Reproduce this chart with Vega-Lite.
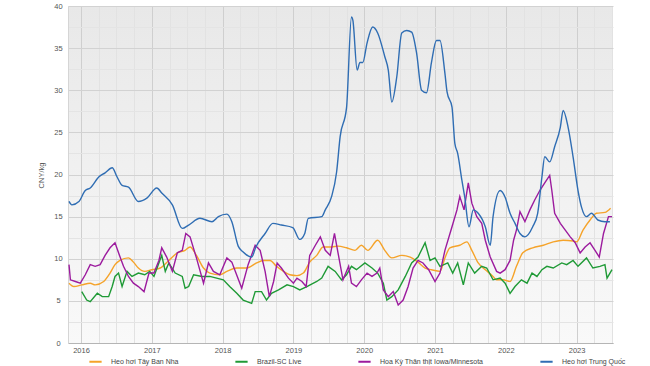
{
  "$schema": "https://vega.github.io/schema/vega-lite/v6.json",
  "width": 545,
  "height": 337,
  "autosize": "none",
  "padding": {"left": 68, "top": 6, "right": 37, "bottom": 23},
  "background": "#ffffff",
  "config": {
    "view": {
      "stroke": null,
      "fill": {"gradient": "linear", "x1": 0, "y1": 0, "x2": 0, "y2": 1, "stops": [{"offset": 0, "color": "#e8e8e8"}, {"offset": 1, "color": "#f9f9f9"}]}
    },
    "font": "Liberation Sans"
  },
  "encoding": {
    "x": {
      "field": "t", "type": "quantitative",
      "scale": {"domain": [2015.816, 2023.514], "nice": false, "zero": false},
      "axis": {
        "title": null,
        "values": [2015.75, 2016, 2016.25, 2016.5, 2016.75, 2017, 2017.25, 2017.5, 2017.75, 2018, 2018.25, 2018.5, 2018.75, 2019, 2019.25, 2019.5, 2019.75, 2020, 2020.25, 2020.5, 2020.75, 2021, 2021.25, 2021.5, 2021.75, 2022, 2022.25, 2022.5, 2022.75, 2023, 2023.25, 2023.5],
        "labelExpr": "datum.value % 1 === 0 ? format(datum.value, 'd') : ''",
        "gridColor": {"condition": {"test": "datum.value % 1 === 0", "value": "#cfcfcf"}, "value": "#e2e2e2"},
        "ticks": false,
        "domainColor": "#b5b5b5",
        "labelFontSize": 7.5,
        "labelColor": "#555555",
        "labelPadding": 3,
        "labelFlush": false
      }
    },
    "y": {
      "field": "v", "type": "quantitative",
      "scale": {"domain": [0, 40], "nice": false},
      "axis": {
        "title": "CNY/kg",
        "titleFontSize": 7.5,
        "titleFontWeight": "normal",
        "titleColor": "#555555",
        "titleX": -27,
        "titleY": 169,
        "titleAngle": -90,
        "titleAlign": "center",
        "titleBaseline": "middle",
        "values": [0, 2.5, 5, 7.5, 10, 12.5, 15, 17.5, 20, 22.5, 25, 27.5, 30, 32.5, 35, 37.5, 40],
        "labelExpr": "datum.value % 5 === 0 ? format(datum.value, 'd') : ''",
        "gridColor": {"condition": {"test": "datum.value % 5 === 0", "value": "#d2d2d2"}, "value": "#e4e4e4"},
        "ticks": false,
        "domainColor": "#d5d5d5",
        "labelAlign": "center",
        "labelPadding": 10,
        "labelFontSize": 7.5,
        "labelColor": "#555555"
      }
    },
    "color": {
      "scale": {
        "domain": ["Heo hơi Tây Ban Nha", "Brazil-SC Live", "Hoa Kỳ Thăn thịt Iowa/Minnesota", "Heo hơi Trung Quốc"],
        "range": ["#f5a32a", "#1f9a36", "#9c1b9e", "#2f6db3"]
      },
      "legend": {
        "title": null,
        "orient": "none",
        "legendX": 20,
        "legendY": 348,
        "direction": "horizontal",
        "columns": 4,
        "columnPadding": 52,
        "symbolType": "stroke",
        "symbolSize": 150,
        "symbolStrokeWidth": 2,
        "labelFontSize": 7,
        "labelColor": "#444444",
        "labelOffset": 8,
        "padding": 0,
        "labelLimit": 200
      }
    }
  },
  "layer": [
    {
      "data": {"values": [
        {"t": 2015.83, "v": 7.1}, {"t": 2015.90, "v": 6.7}, {"t": 2016.01, "v": 6.9}, {"t": 2016.13, "v": 7.1}, {"t": 2016.20, "v": 6.9}, {"t": 2016.32, "v": 7.3}, {"t": 2016.41, "v": 8.3}, {"t": 2016.48, "v": 9.3}, {"t": 2016.55, "v": 9.8}, {"t": 2016.67, "v": 10.1}, {"t": 2016.74, "v": 9.6}, {"t": 2016.81, "v": 8.9}, {"t": 2016.90, "v": 8.5}, {"t": 2017.00, "v": 8.7}, {"t": 2017.12, "v": 8.9}, {"t": 2017.24, "v": 9.8}, {"t": 2017.36, "v": 10.7}, {"t": 2017.47, "v": 11.0}, {"t": 2017.54, "v": 11.4}, {"t": 2017.63, "v": 10.4}, {"t": 2017.73, "v": 8.9}, {"t": 2017.82, "v": 8.3}, {"t": 2017.96, "v": 8.1}, {"t": 2018.06, "v": 8.5}, {"t": 2018.20, "v": 8.9}, {"t": 2018.34, "v": 8.9}, {"t": 2018.48, "v": 9.5}, {"t": 2018.57, "v": 9.8}, {"t": 2018.67, "v": 9.8}, {"t": 2018.76, "v": 9.1}, {"t": 2018.86, "v": 8.5}, {"t": 2018.95, "v": 8.1}, {"t": 2019.05, "v": 8.0}, {"t": 2019.14, "v": 8.3}, {"t": 2019.23, "v": 9.6}, {"t": 2019.33, "v": 10.4}, {"t": 2019.42, "v": 11.4}, {"t": 2019.54, "v": 11.4}, {"t": 2019.63, "v": 11.5}, {"t": 2019.75, "v": 11.3}, {"t": 2019.87, "v": 11.0}, {"t": 2019.96, "v": 11.6}, {"t": 2020.05, "v": 11.0}, {"t": 2020.19, "v": 12.2}, {"t": 2020.29, "v": 11.0}, {"t": 2020.39, "v": 10.1}, {"t": 2020.53, "v": 10.4}, {"t": 2020.65, "v": 10.2}, {"t": 2020.76, "v": 9.6}, {"t": 2020.86, "v": 8.9}, {"t": 2020.95, "v": 8.7}, {"t": 2021.07, "v": 8.5}, {"t": 2021.14, "v": 10.1}, {"t": 2021.21, "v": 11.3}, {"t": 2021.35, "v": 11.6}, {"t": 2021.45, "v": 12.0}, {"t": 2021.52, "v": 11.0}, {"t": 2021.61, "v": 9.5}, {"t": 2021.71, "v": 8.7}, {"t": 2021.82, "v": 7.9}, {"t": 2021.87, "v": 7.5}, {"t": 2021.96, "v": 7.5}, {"t": 2022.06, "v": 7.3}, {"t": 2022.15, "v": 9.1}, {"t": 2022.24, "v": 10.7}, {"t": 2022.38, "v": 11.3}, {"t": 2022.53, "v": 11.6}, {"t": 2022.67, "v": 12.0}, {"t": 2022.81, "v": 12.2}, {"t": 2022.95, "v": 12.1}, {"t": 2023.00, "v": 12.0}, {"t": 2023.09, "v": 13.4}, {"t": 2023.19, "v": 14.6}, {"t": 2023.28, "v": 15.4}, {"t": 2023.40, "v": 15.5}, {"t": 2023.48, "v": 16.0}
      ]},
      "mark": {"type": "line", "strokeWidth": 1.4, "interpolate": "monotone"},
      "encoding": {"color": {"datum": "Heo hơi Tây Ban Nha"}}
    },
    {
      "data": {"values": [
        {"t": 2016.01, "v": 6.1}, {"t": 2016.08, "v": 5.1}, {"t": 2016.13, "v": 4.9}, {"t": 2016.23, "v": 5.9}, {"t": 2016.30, "v": 5.5}, {"t": 2016.39, "v": 5.5}, {"t": 2016.44, "v": 6.7}, {"t": 2016.48, "v": 7.9}, {"t": 2016.53, "v": 8.3}, {"t": 2016.58, "v": 6.7}, {"t": 2016.65, "v": 8.5}, {"t": 2016.72, "v": 7.9}, {"t": 2016.81, "v": 8.3}, {"t": 2016.90, "v": 8.1}, {"t": 2016.97, "v": 8.5}, {"t": 2017.03, "v": 7.9}, {"t": 2017.10, "v": 9.5}, {"t": 2017.14, "v": 10.4}, {"t": 2017.19, "v": 8.5}, {"t": 2017.24, "v": 9.5}, {"t": 2017.33, "v": 8.3}, {"t": 2017.43, "v": 7.9}, {"t": 2017.47, "v": 6.5}, {"t": 2017.52, "v": 6.7}, {"t": 2017.59, "v": 8.1}, {"t": 2017.71, "v": 7.9}, {"t": 2017.82, "v": 7.9}, {"t": 2018.01, "v": 7.5}, {"t": 2018.10, "v": 6.7}, {"t": 2018.20, "v": 5.9}, {"t": 2018.29, "v": 5.1}, {"t": 2018.41, "v": 4.7}, {"t": 2018.46, "v": 6.1}, {"t": 2018.55, "v": 6.1}, {"t": 2018.62, "v": 5.1}, {"t": 2018.69, "v": 5.9}, {"t": 2018.79, "v": 6.3}, {"t": 2018.91, "v": 6.9}, {"t": 2019.00, "v": 6.7}, {"t": 2019.09, "v": 6.3}, {"t": 2019.19, "v": 6.7}, {"t": 2019.33, "v": 7.3}, {"t": 2019.40, "v": 7.7}, {"t": 2019.49, "v": 9.1}, {"t": 2019.59, "v": 8.5}, {"t": 2019.68, "v": 7.5}, {"t": 2019.75, "v": 8.1}, {"t": 2019.82, "v": 9.1}, {"t": 2019.89, "v": 8.7}, {"t": 2020.01, "v": 9.5}, {"t": 2020.11, "v": 8.9}, {"t": 2020.19, "v": 8.3}, {"t": 2020.27, "v": 7.1}, {"t": 2020.32, "v": 5.1}, {"t": 2020.39, "v": 5.5}, {"t": 2020.48, "v": 6.3}, {"t": 2020.58, "v": 7.9}, {"t": 2020.67, "v": 9.5}, {"t": 2020.76, "v": 10.2}, {"t": 2020.86, "v": 11.9}, {"t": 2020.93, "v": 9.8}, {"t": 2021.00, "v": 10.1}, {"t": 2021.07, "v": 9.1}, {"t": 2021.18, "v": 9.5}, {"t": 2021.25, "v": 8.3}, {"t": 2021.32, "v": 9.5}, {"t": 2021.40, "v": 6.9}, {"t": 2021.47, "v": 9.5}, {"t": 2021.56, "v": 8.3}, {"t": 2021.66, "v": 9.1}, {"t": 2021.73, "v": 8.9}, {"t": 2021.82, "v": 7.5}, {"t": 2021.92, "v": 7.7}, {"t": 2021.99, "v": 7.1}, {"t": 2022.06, "v": 5.9}, {"t": 2022.13, "v": 6.7}, {"t": 2022.22, "v": 7.5}, {"t": 2022.30, "v": 7.1}, {"t": 2022.37, "v": 8.3}, {"t": 2022.44, "v": 7.9}, {"t": 2022.51, "v": 8.7}, {"t": 2022.58, "v": 9.1}, {"t": 2022.67, "v": 8.9}, {"t": 2022.79, "v": 9.5}, {"t": 2022.86, "v": 9.3}, {"t": 2022.95, "v": 9.8}, {"t": 2023.02, "v": 9.1}, {"t": 2023.14, "v": 10.1}, {"t": 2023.23, "v": 8.9}, {"t": 2023.33, "v": 9.1}, {"t": 2023.40, "v": 9.3}, {"t": 2023.43, "v": 7.7}, {"t": 2023.50, "v": 8.7}
      ]},
      "mark": {"type": "line", "strokeWidth": 1.4},
      "encoding": {"color": {"datum": "Brazil-SC Live"}}
    },
    {
      "data": {"values": [
        {"t": 2015.83, "v": 9.3}, {"t": 2015.85, "v": 7.5}, {"t": 2015.92, "v": 7.3}, {"t": 2015.99, "v": 7.1}, {"t": 2016.06, "v": 8.1}, {"t": 2016.13, "v": 9.3}, {"t": 2016.20, "v": 9.1}, {"t": 2016.27, "v": 9.3}, {"t": 2016.34, "v": 10.4}, {"t": 2016.41, "v": 11.3}, {"t": 2016.48, "v": 11.9}, {"t": 2016.53, "v": 10.7}, {"t": 2016.60, "v": 9.1}, {"t": 2016.67, "v": 7.9}, {"t": 2016.74, "v": 7.1}, {"t": 2016.81, "v": 6.7}, {"t": 2016.89, "v": 6.1}, {"t": 2016.96, "v": 8.3}, {"t": 2017.03, "v": 8.3}, {"t": 2017.10, "v": 9.8}, {"t": 2017.14, "v": 11.3}, {"t": 2017.21, "v": 10.2}, {"t": 2017.29, "v": 8.5}, {"t": 2017.36, "v": 10.7}, {"t": 2017.43, "v": 11.0}, {"t": 2017.48, "v": 13.0}, {"t": 2017.54, "v": 12.6}, {"t": 2017.63, "v": 10.1}, {"t": 2017.73, "v": 7.1}, {"t": 2017.80, "v": 9.5}, {"t": 2017.87, "v": 8.5}, {"t": 2017.96, "v": 8.1}, {"t": 2018.06, "v": 10.1}, {"t": 2018.13, "v": 9.6}, {"t": 2018.18, "v": 8.5}, {"t": 2018.27, "v": 6.5}, {"t": 2018.36, "v": 9.3}, {"t": 2018.46, "v": 11.6}, {"t": 2018.53, "v": 11.0}, {"t": 2018.60, "v": 8.5}, {"t": 2018.66, "v": 5.5}, {"t": 2018.72, "v": 7.3}, {"t": 2018.77, "v": 9.5}, {"t": 2018.83, "v": 8.9}, {"t": 2018.93, "v": 7.7}, {"t": 2019.00, "v": 7.1}, {"t": 2019.05, "v": 7.7}, {"t": 2019.12, "v": 7.3}, {"t": 2019.18, "v": 6.7}, {"t": 2019.23, "v": 10.4}, {"t": 2019.31, "v": 11.6}, {"t": 2019.38, "v": 12.6}, {"t": 2019.45, "v": 11.0}, {"t": 2019.52, "v": 10.4}, {"t": 2019.58, "v": 13.0}, {"t": 2019.63, "v": 10.7}, {"t": 2019.70, "v": 7.5}, {"t": 2019.78, "v": 9.1}, {"t": 2019.82, "v": 7.1}, {"t": 2019.89, "v": 6.7}, {"t": 2019.96, "v": 7.5}, {"t": 2020.04, "v": 8.3}, {"t": 2020.11, "v": 7.9}, {"t": 2020.18, "v": 8.3}, {"t": 2020.22, "v": 8.9}, {"t": 2020.27, "v": 6.3}, {"t": 2020.34, "v": 5.5}, {"t": 2020.41, "v": 6.1}, {"t": 2020.48, "v": 4.5}, {"t": 2020.55, "v": 5.1}, {"t": 2020.62, "v": 6.7}, {"t": 2020.69, "v": 8.9}, {"t": 2020.76, "v": 9.8}, {"t": 2020.83, "v": 9.5}, {"t": 2020.91, "v": 8.7}, {"t": 2021.00, "v": 7.3}, {"t": 2021.07, "v": 8.3}, {"t": 2021.14, "v": 11.0}, {"t": 2021.24, "v": 13.8}, {"t": 2021.31, "v": 15.8}, {"t": 2021.35, "v": 17.4}, {"t": 2021.41, "v": 15.8}, {"t": 2021.47, "v": 19.0}, {"t": 2021.52, "v": 16.6}, {"t": 2021.59, "v": 15.0}, {"t": 2021.66, "v": 14.2}, {"t": 2021.71, "v": 12.2}, {"t": 2021.78, "v": 10.2}, {"t": 2021.87, "v": 8.5}, {"t": 2021.92, "v": 8.3}, {"t": 2021.99, "v": 8.7}, {"t": 2022.06, "v": 9.8}, {"t": 2022.11, "v": 12.2}, {"t": 2022.15, "v": 13.4}, {"t": 2022.20, "v": 15.6}, {"t": 2022.27, "v": 14.4}, {"t": 2022.34, "v": 15.8}, {"t": 2022.41, "v": 17.0}, {"t": 2022.48, "v": 18.1}, {"t": 2022.55, "v": 19.0}, {"t": 2022.62, "v": 19.9}, {"t": 2022.65, "v": 18.1}, {"t": 2022.69, "v": 15.4}, {"t": 2022.77, "v": 14.2}, {"t": 2022.84, "v": 13.4}, {"t": 2022.91, "v": 12.6}, {"t": 2022.98, "v": 11.9}, {"t": 2023.05, "v": 10.7}, {"t": 2023.12, "v": 11.4}, {"t": 2023.19, "v": 11.9}, {"t": 2023.26, "v": 11.0}, {"t": 2023.32, "v": 10.2}, {"t": 2023.38, "v": 13.0}, {"t": 2023.45, "v": 15.0}, {"t": 2023.50, "v": 15.0}
      ]},
      "mark": {"type": "line", "strokeWidth": 1.4},
      "encoding": {"color": {"datum": "Hoa Kỳ Thăn thịt Iowa/Minnesota"}}
    },
    {
      "data": {"values": [
        {"t": 2015.83, "v": 16.8}, {"t": 2015.87, "v": 16.4}, {"t": 2015.97, "v": 16.8}, {"t": 2016.06, "v": 18.1}, {"t": 2016.13, "v": 18.4}, {"t": 2016.25, "v": 19.7}, {"t": 2016.34, "v": 20.2}, {"t": 2016.44, "v": 20.8}, {"t": 2016.51, "v": 19.7}, {"t": 2016.58, "v": 18.7}, {"t": 2016.67, "v": 18.5}, {"t": 2016.81, "v": 16.8}, {"t": 2016.93, "v": 17.2}, {"t": 2017.07, "v": 18.4}, {"t": 2017.14, "v": 17.8}, {"t": 2017.29, "v": 16.4}, {"t": 2017.43, "v": 13.6}, {"t": 2017.52, "v": 14.0}, {"t": 2017.68, "v": 14.8}, {"t": 2017.85, "v": 14.4}, {"t": 2017.94, "v": 15.0}, {"t": 2018.06, "v": 15.3}, {"t": 2018.13, "v": 14.4}, {"t": 2018.22, "v": 11.5}, {"t": 2018.29, "v": 10.8}, {"t": 2018.41, "v": 10.2}, {"t": 2018.47, "v": 11.4}, {"t": 2018.60, "v": 13.0}, {"t": 2018.71, "v": 14.2}, {"t": 2018.83, "v": 14.0}, {"t": 2018.99, "v": 13.7}, {"t": 2019.09, "v": 12.3}, {"t": 2019.16, "v": 13.0}, {"t": 2019.21, "v": 14.8}, {"t": 2019.40, "v": 15.0}, {"t": 2019.45, "v": 15.8}, {"t": 2019.54, "v": 17.4}, {"t": 2019.61, "v": 20.3}, {"t": 2019.66, "v": 24.5}, {"t": 2019.75, "v": 27.9}, {"t": 2019.82, "v": 38.7}, {"t": 2019.84, "v": 38.3}, {"t": 2019.90, "v": 32.4}, {"t": 2019.94, "v": 33.3}, {"t": 2019.98, "v": 33.3}, {"t": 2020.04, "v": 35.6}, {"t": 2020.12, "v": 37.5}, {"t": 2020.19, "v": 36.8}, {"t": 2020.29, "v": 34.0}, {"t": 2020.34, "v": 32.4}, {"t": 2020.39, "v": 28.6}, {"t": 2020.46, "v": 31.6}, {"t": 2020.53, "v": 36.8}, {"t": 2020.60, "v": 37.1}, {"t": 2020.67, "v": 36.9}, {"t": 2020.74, "v": 34.4}, {"t": 2020.81, "v": 30.0}, {"t": 2020.88, "v": 29.7}, {"t": 2020.95, "v": 33.3}, {"t": 2021.02, "v": 35.9}, {"t": 2021.07, "v": 35.9}, {"t": 2021.14, "v": 32.0}, {"t": 2021.17, "v": 29.8}, {"t": 2021.24, "v": 28.0}, {"t": 2021.28, "v": 23.7}, {"t": 2021.32, "v": 22.5}, {"t": 2021.38, "v": 19.3}, {"t": 2021.42, "v": 17.3}, {"t": 2021.48, "v": 13.8}, {"t": 2021.54, "v": 15.8}, {"t": 2021.61, "v": 15.4}, {"t": 2021.71, "v": 13.8}, {"t": 2021.78, "v": 11.6}, {"t": 2021.82, "v": 15.0}, {"t": 2021.92, "v": 18.1}, {"t": 2021.99, "v": 17.3}, {"t": 2022.06, "v": 15.4}, {"t": 2022.13, "v": 14.2}, {"t": 2022.20, "v": 13.0}, {"t": 2022.27, "v": 12.6}, {"t": 2022.38, "v": 13.8}, {"t": 2022.45, "v": 15.4}, {"t": 2022.51, "v": 19.7}, {"t": 2022.55, "v": 22.1}, {"t": 2022.62, "v": 21.5}, {"t": 2022.69, "v": 23.3}, {"t": 2022.77, "v": 25.6}, {"t": 2022.81, "v": 27.6}, {"t": 2022.88, "v": 25.6}, {"t": 2022.95, "v": 22.1}, {"t": 2023.02, "v": 18.1}, {"t": 2023.07, "v": 16.1}, {"t": 2023.14, "v": 15.0}, {"t": 2023.21, "v": 15.4}, {"t": 2023.30, "v": 14.6}, {"t": 2023.40, "v": 14.4}, {"t": 2023.47, "v": 14.4}
      ]},
      "mark": {"type": "line", "strokeWidth": 1.4, "interpolate": "monotone"},
      "encoding": {"color": {"datum": "Heo hơi Trung Quốc"}}
    }
  ]
}
